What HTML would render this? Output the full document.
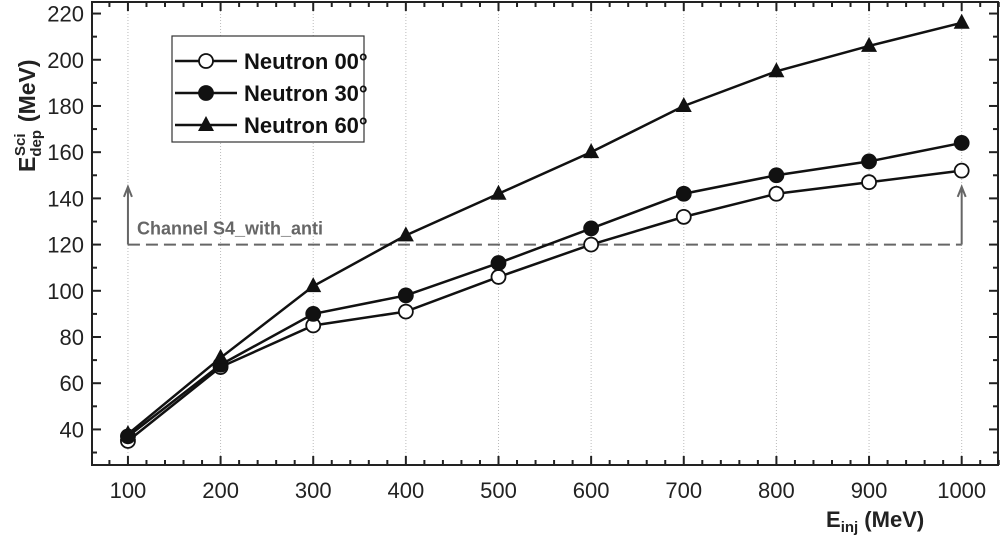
<!DOCTYPE html>
<html><head><meta charset="utf-8"><style>body{margin:0;background:#fff}svg{display:block;font-family:"Liberation Sans",sans-serif}</style></head>
<body>
<svg id="c" width="1000" height="536"></svg>
<script>
const xCats=[100,200,300,400,500,600,700,800,900,1000];
const s00=[35,67,85,91,106,120,132,142,147,152];
const s30=[37,68,90,98,112,127,142,150,156,164];
const s60=[38,71,102,124,142,160,180,195,206,216];
const xTicks=[100,200,300,400,500,600,700,800,900,1000];
const yTicks=[40,60,80,100,120,140,160,180,200,220];
const threshold=120;
const L=92,R=998,T=2,B=465;
const xMin=61.2,xMax=1039.2,yMin=24.6,yMax=225;
const X=v=>L+(v-xMin)/(xMax-xMin)*(R-L);
const Y=v=>B-(v-yMin)/(yMax-yMin)*(B-T);
const svg=document.getElementById('c');const NS='http://www.w3.org/2000/svg';
function mk(t,a,p){const e=document.createElementNS(NS,t);for(const k in a)e.setAttribute(k,a[k]);(p||svg).appendChild(e);return e;}
xTicks.forEach(v=>{const g=mk('line',{x1:X(v),x2:X(v),y1:T,y2:B,stroke:'#bbb','stroke-dasharray':'1,2'});

});
for(let v=80;v<=1040;v+=20){const big=v%100==0;const h=big?9:5;
mk('line',{x1:X(v),x2:X(v),y1:B,y2:B-h,stroke:'#222','stroke-width':2});
mk('line',{x1:X(v),x2:X(v),y1:T,y2:T+h,stroke:'#222','stroke-width':2});}
for(let v=30;v<=220;v+=10){const big=v%20==0;const h=big?9:5;
mk('line',{x1:L,x2:L+h,y1:Y(v),y2:Y(v),stroke:'#222','stroke-width':2});
mk('line',{x1:R,x2:R-h,y1:Y(v),y2:Y(v),stroke:'#222','stroke-width':2});}
const fr=mk('rect',{x:L,y:T,width:R-L,height:B-T,fill:'none',stroke:'#222','stroke-width':2});


xTicks.forEach(v=>{const t=mk('text',{x:X(v),y:B+33,'text-anchor':'middle','font-size':22,fill:'#222'});t.textContent=v;

});
yTicks.forEach(v=>{const t=mk('text',{x:L-8,y:Y(v)+8,'text-anchor':'end','font-size':22,fill:'#222'});t.textContent=v;

});
const th=mk('path',{d:`M${X(100)},${Y(threshold)} H${X(1000)}`,stroke:'#666','stroke-width':2,'stroke-dasharray':'12,6',fill:'none'});


[100,1000].forEach(v=>{const a=mk('path',{d:`M${X(v)},${Y(threshold)} V${Y(145)} M${X(v)-4},${Y(145)+10} L${X(v)},${Y(145)} L${X(v)+4},${Y(145)+10}`,stroke:'#666','stroke-width':2,fill:'none'});

});
const tl=mk('text',{x:137,y:Y(threshold)-10,'font-size':18,'font-weight':'bold',fill:'#666'});tl.textContent='Channel S4_with_anti';


function marker(type,x,y,g){
 if(type==='tri')return mk('path',{d:`M${x},${y-9} L${x+8},${y+6} L${x-8},${y+6}Z`,fill:'#111'},g);
 return mk('circle',{cx:x,cy:y,r:7,fill:type==='open'?'#fff':'#111',stroke:'#111','stroke-width':1.8},g);}
const series=[[s00,'open','Neutron 00°'],[s30,'fill','Neutron 30°'],[s60,'tri','Neutron 60°']];
series.forEach(([d,type,name])=>{const g=mk('g',{});


mk('polyline',{points:d.map((v,i)=>X(xCats[i])+','+Y(v)).join(' '),fill:'none',stroke:'#111','stroke-width':2.5},g);
d.forEach((v,i)=>{const m=marker(type,X(xCats[i]),Y(v),g);

});});
const lg=mk('g',{});


mk('rect',{x:172,y:36,width:192,height:106,fill:'#fff',stroke:'#333','stroke-width':1.2},lg);
series.forEach(([d,type,name],i)=>{const y=61+i*32;
mk('line',{x1:175,x2:237,y1:y,y2:y,stroke:'#111','stroke-width':2.5},lg);marker(type,206,y,lg);
const t=mk('text',{x:244,y:y+8,'font-size':22,'font-weight':'bold',fill:'#111'},lg);t.textContent=name;

});
const xt=mk('text',{x:826,y:527,'font-size':22,'font-weight':'bold',fill:'#222'});
xt.innerHTML='E<tspan font-size="15" dy="5">inj</tspan><tspan dy="-5"> (MeV)</tspan>';


const yt=mk('text',{transform:'translate(35,172) rotate(-90)','font-size':23,'font-weight':'bold',fill:'#222'});
yt.innerHTML='E<tspan font-size="15" dy="6">dep</tspan><tspan font-size="15" dx="-26" dy="-16">Sci</tspan><tspan dy="10" dx="5"> (MeV)</tspan>';


</script>
</body></html>
